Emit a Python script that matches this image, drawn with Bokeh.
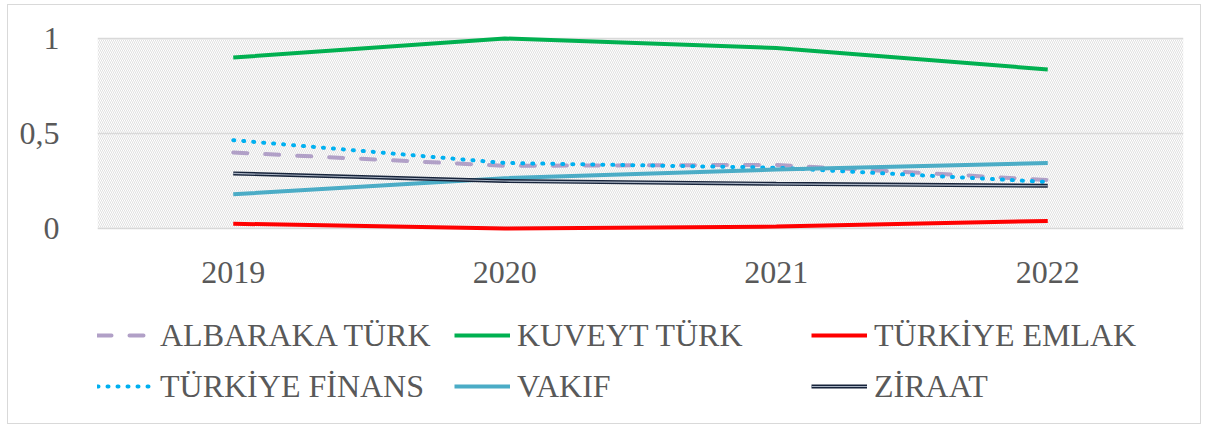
from bokeh.plotting import figure
from bokeh.layouts import column
from bokeh.models import (FixedTicker, Range1d, FactorRange, BoxAnnotation,
                          Legend, LegendItem)
from bokeh.embed import file_html
from bokeh.resources import INLINE

years = ["2019", "2020", "2021", "2022"]
albaraka = [0.40, 0.33, 0.335, 0.255]
kuveyt = [0.90, 1.00, 0.95, 0.837]
emlak = [0.025, 0.0, 0.01, 0.04]
finans = [0.465, 0.345, 0.32, 0.245]
vakif = [0.18, 0.265, 0.31, 0.345]
ziraat = [0.29, 0.25, 0.235, 0.225]

y_ticks = [0, 0.5, 1]
y_labels = {0: "0", 0.5: "0,5", 1: "1"}

names = ["ALBARAKA TÜRK", "KUVEYT TÜRK", "TÜRKİYE EMLAK",
         "TÜRKİYE FİNANS", "VAKIF", "ZİRAAT"]

FONT = "Liberation Serif"
TXT = "#595959"
GRID = "#d9d9d9"

styles = {
    "ALBARAKA TÜRK": dict(line_color="#b1a0c7", line_width=4, line_dash="14 18", line_cap="round"),
    "KUVEYT TÜRK": dict(line_color="#00b050", line_width=4),
    "TÜRKİYE EMLAK": dict(line_color="#ff0000", line_width=4),
    "TÜRKİYE FİNANS": dict(line_color="#00b0f0", line_width=4, line_dash="1 9", line_cap="round"),
    "VAKIF": dict(line_color="#4bacc6", line_width=4),
}
zir_outer = dict(line_color="#16233a", line_width=4)
zir_inner = dict(line_color="#aab4c4", line_width=1.2)

p = figure(width=1192, height=300, output_backend="svg", toolbar_location=None,
           x_range=FactorRange(*years, range_padding=0),
           y_range=Range1d(-4 / 190, 1 + 4 / 190),
           min_border_left=89, min_border_right=17, min_border_top=29,
           min_border_bottom=73)
p.outline_line_color = None

hatch = BoxAnnotation(bottom=0, top=1, fill_alpha=0, line_color=None,
                      hatch_pattern="left_diagonal_line", hatch_color="#d8d8d8",
                      hatch_scale=4, hatch_weight=0.8, level="image")
p.add_layout(hatch)

p.xgrid.grid_line_color = None
p.ygrid.ticker = FixedTicker(ticks=y_ticks)
p.ygrid.grid_line_color = GRID
p.ygrid.grid_line_width = 1.5

p.yaxis.ticker = FixedTicker(ticks=y_ticks)
p.yaxis.major_label_overrides = y_labels
for ax in (p.xaxis[0], p.yaxis[0]):
    ax.axis_line_color = None
    ax.major_tick_line_color = None
    ax.minor_tick_line_color = None
    ax.major_label_text_font = FONT
    ax.major_label_text_color = TXT
    ax.major_label_text_font_size = "32px"
p.yaxis.major_label_standoff = 32
p.xaxis.major_label_standoff = 23

series = [albaraka, kuveyt, emlak, finans, vakif, ziraat]
for name, vals in zip(names[:5], series[:5]):
    p.line(years, vals, **styles[name])
p.line(years, ziraat, **zir_outer)
p.line(years, ziraat, **zir_inner)

# legend panel: second figure; its renderers hold the same series but lie
# outside its visible y range, so only the legend shows.
q = figure(width=1192, height=118, output_backend="svg", toolbar_location=None,
           min_border=0, x_axis_location=None, y_axis_location=None,
           x_range=FactorRange(*years, range_padding=0),
           y_range=Range1d(10, 11))
q.grid.visible = False
q.outline_line_color = None

items = []
for name, vals in zip(names[:5], series[:5]):
    r = q.line(years, vals, **styles[name])
    items.append(LegendItem(label=name, renderers=[r]))
z1 = q.line(years, ziraat, **zir_outer)
z2 = q.line(years, ziraat, **zir_inner)
items.append(LegendItem(label="ZİRAAT", renderers=[z1, z2]))

legend = Legend(items=items, orientation="horizontal", ncols=3,
                location=(0, 15), padding=0, margin=0, spacing=7,
                glyph_width=56, glyph_height=44, label_height=44,
                label_width=287, label_standoff=7,
                label_text_font=FONT, label_text_color=TXT,
                label_text_font_size="32px",
                border_line_color=None, background_fill_alpha=0)
q.add_layout(legend, "center")

layout = column(p, q, spacing=0,
                styles={"border": "1px solid #d9d9d9", "margin-left": "7px",
                        "margin-top": "4px"})

open("out.html", "w").write(file_html(layout, INLINE))
